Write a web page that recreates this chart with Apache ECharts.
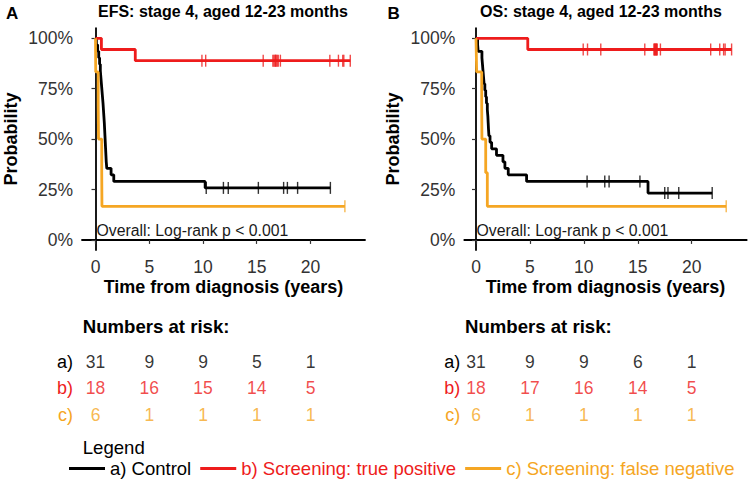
<!DOCTYPE html>
<html>
<head>
<meta charset="utf-8">
<script src="https://cdn.jsdelivr.net/npm/echarts@6/dist/echarts.min.js"></script>
<style>
html,body{margin:0;padding:0;background:#fff;}
#chart{width:751px;height:483px;}
</style>
</head>
<body>
<div id="chart"></div>
<script>
// ---------------- DATA ----------------
const groupNames = ['a) Control', 'b) Screening: true positive', 'c) Screening: false negative'];
const rowLabels = ['a)', 'b)', 'c)'];
const xTicks = [0, 5, 10, 15, 20];
const yTicks = [0, 0.25, 0.5, 0.75, 1];
const riskTimes = [0, 5, 10, 15, 20];

// Panel A (EFS): event times and censoring times, years
const efsControlEvents = [0.08, 0.2, 0.3, 0.38, 0.45, 0.5, 0.55, 0.6, 0.65, 0.7, 0.74, 0.78, 0.82, 0.85, 0.88, 0.91, 0.94, 0.97, 1.0, 1.05, 1.45, 1.7, 10.2];
const efsControlCensored = [10.3, 11.9, 12.35, 15.15, 17.5, 17.85, 18.8, 21.85];
const efsTruePosEvents = [0.55, 3.7];
const efsTruePosCensored = [9.9, 10.25, 15.6, 16.5, 16.6, 16.7, 16.75, 16.8, 16.9, 17.0, 17.2, 21.8, 22.6, 23.0, 23.1, 23.7];
const efsFalseNegEvents = [0.02, 0.25, 0.28, 0.58, 0.6];
const efsFalseNegCensored = [23.2];

// Panel B (OS)
const osControlEvents = [0.15, 0.2, 0.55, 0.6, 0.65, 0.7, 0.75, 0.82, 0.9, 0.97, 1.05, 1.1, 1.13, 1.16, 1.2, 1.3, 1.45, 1.9, 2.5, 2.68, 2.99, 4.69, 15.95];
const osControlCensored = [10.3, 11.94, 12.34, 15.2, 17.5, 17.8, 18.8, 21.9];
const osTruePosEvents = [4.8];
const osTruePosCensored = [9.94, 10.34, 11.57, 15.65, 16.5, 16.55, 16.6, 16.65, 16.7, 16.75, 16.8, 17.1, 21.76, 22.6, 22.96, 23.1, 23.7];
const osFalseNegEvents = [0.06, 0.53, 0.55, 0.9, 1.05];
const osFalseNegCensored = [23.2];

// Numbers at risk
const efsRiskControl = [31, 9, 9, 5, 1];
const efsRiskTruePos = [18, 16, 15, 14, 5];
const efsRiskFalseNeg = [6, 1, 1, 1, 1];
const osRiskControl = [31, 9, 9, 6, 1];
const osRiskTruePos = [18, 17, 16, 14, 5];
const osRiskFalseNeg = [6, 1, 1, 1, 1];

// ---------------- STYLE ----------------
const colors = ['#000000', '#ee1c1c', '#f5a623'];
const FONT = '"Liberation Sans", Arial, Helvetica, sans-serif';

// Kaplan-Meier step curve from event / censor times
function km(events, censored) {
  const n = events.length + censored.length;
  const times = Array.from(new Set(events.concat(censored))).sort((a, b) => a - b);
  let S = 1, atRisk = n;
  const curve = [[0, 1]];
  const marks = [];
  times.forEach(t => {
    const d = events.filter(e => e === t).length;
    const c = censored.filter(e => e === t).length;
    if (d > 0) { S = S * (atRisk - d) / atRisk; curve.push([t, S]); }
    if (c > 0) marks.push([t, S]);
    atRisk -= d + c;
  });
  const last = times[times.length - 1];
  curve.push([last, S]);
  return { curve, marks };
}

const panels = [
  { groups: [[efsControlEvents, efsControlCensored], [efsTruePosEvents, efsTruePosCensored], [efsFalseNegEvents, efsFalseNegCensored]],
    risk: [efsRiskControl, efsRiskTruePos, efsRiskFalseNeg] },
  { groups: [[osControlEvents, osControlCensored], [osTruePosEvents, osTruePosCensored], [osFalseNegEvents, osFalseNegCensored]],
    risk: [osRiskControl, osRiskTruePos, osRiskFalseNeg] }
];

const gridDefs = [
  { left: 82, top: 28.2, width: 283, height: 221.8 },
  { left: 464.3, top: 28.2, width: 282.4, height: 221.8 },
  { left: 82, top: 348.4, width: 283, height: 79.6 },
  { left: 464.3, top: 348.4, width: 282.4, height: 79.6 }
];
const xRanges = [[-1.256, 25.07], [-1.085, 25.1]];

const xAxes = [], yAxes = [], series = [];
[0, 1].forEach(p => {
  xAxes.push({
    type: 'value', gridIndex: p, min: xRanges[p][0], max: xRanges[p][1],
    name: 'Time from diagnosis (years)', nameLocation: 'middle', nameGap: 28,
    nameTextStyle: { fontFamily: FONT, fontSize: 18, fontWeight: 'bold', color: '#000' },
    axisLine: { show: true, lineStyle: { color: '#000', width: 1.8 } },
    axisTick: { show: true, length: 4, lineStyle: { color: '#333', width: 1.2 }, customValues: xTicks },
    axisLabel: { show: true, margin: 8, fontFamily: FONT, fontSize: 17.5, color: '#333', customValues: xTicks },
    splitLine: { show: false }
  });
  yAxes.push({
    type: 'value', gridIndex: p, min: -0.05, max: 1.05,
    name: 'Probability', nameLocation: 'middle', nameGap: 62,
    nameTextStyle: { fontFamily: FONT, fontSize: 18, fontWeight: 'bold', color: '#000' },
    axisLine: { show: true, lineStyle: { color: '#000', width: 1.8 } },
    axisTick: { show: true, length: 4, lineStyle: { color: '#333', width: 1.2 }, customValues: yTicks },
    axisLabel: { show: true, margin: 9, fontFamily: FONT, fontSize: 17.5, color: '#333', customValues: yTicks,
      formatter: v => Math.round(v * 100) + '%' },
    splitLine: { show: false }
  });
});
// risk table axes
[0, 1].forEach(p => {
  xAxes.push({
    type: 'value', gridIndex: 2 + p, min: xRanges[p][0], max: xRanges[p][1],
    show: false, splitLine: { show: false }
  });
  yAxes.push({
    type: 'category', gridIndex: 2 + p, data: rowLabels, inverse: true,
    axisLine: { show: false }, axisTick: { show: false }, splitLine: { show: false },
    axisLabel: {
      show: true, margin: p === 0 ? 9 : 4, fontFamily: FONT, fontSize: 18,
      formatter: (v, i) => '{r' + i + '|' + v + '}',
      rich: { r0: { color: colors[0], fontSize: 18, fontFamily: FONT },
              r1: { color: colors[1], fontSize: 18, fontFamily: FONT },
              r2: { color: colors[2], fontSize: 18, fontFamily: FONT } }
    }
  });
});

// draw order: false negative, control, true positive
const order = [2, 0, 1];
[0, 1].forEach(p => {
  order.forEach(g => {
    const res = km(panels[p].groups[g][0], panels[p].groups[g][1]);
    series.push({
      name: groupNames[g], type: 'line', step: 'end', xAxisIndex: p, yAxisIndex: p,
      data: res.curve, showSymbol: false, symbol: 'none', z: 2 + g,
      lineStyle: { color: colors[g], width: 2.8 }, itemStyle: { color: colors[g] },
      silent: true, animation: false
    });
    series.push({
      name: groupNames[g] + ' censored', type: 'scatter', xAxisIndex: p, yAxisIndex: p,
      data: res.marks, symbol: 'rect', symbolSize: [1.4, 12], z: 2 + g,
      itemStyle: { color: colors[g] }, silent: true, animation: false
    });
  });
  // numbers at risk
  panels[p].risk.forEach((row, g) => {
    series.push({
      name: 'risk' + p + g, type: 'scatter', xAxisIndex: 2 + p, yAxisIndex: 2 + p,
      data: row.map((v, i) => [riskTimes[i], rowLabels[g], v]),
      symbolSize: 1, itemStyle: { color: 'rgba(0,0,0,0)' }, silent: true, animation: false,
      label: { show: true, position: 'inside', formatter: d => String(d.value[2]),
        fontFamily: FONT, fontSize: 17.5, color: colors[g] }
    });
  });
});

const graphic = [
  { type: 'text', x: 6, y: 13, style: { text: 'A', font: 'bold 17px ' + FONT, fill: '#000', verticalAlign: 'middle' } },
  { type: 'text', x: 98, y: 11.5, style: { text: 'EFS: stage 4, aged 12-23 months', font: 'bold 16px ' + FONT, fill: '#000', verticalAlign: 'middle' } },
  { type: 'text', x: 387.5, y: 13, style: { text: 'B', font: 'bold 17px ' + FONT, fill: '#000', verticalAlign: 'middle' } },
  { type: 'text', x: 480, y: 11.5, style: { text: 'OS: stage 4, aged 12-23 months', font: 'bold 16px ' + FONT, fill: '#000', verticalAlign: 'middle' } },
  { type: 'text', x: 96.5, y: 230, style: { text: 'Overall: Log-rank p < 0.001', font: '15.8px ' + FONT, fill: '#1a1a1a', verticalAlign: 'middle' } },
  { type: 'text', x: 476.5, y: 230, style: { text: 'Overall: Log-rank p < 0.001', font: '15.8px ' + FONT, fill: '#1a1a1a', verticalAlign: 'middle' } },
  { type: 'text', x: 82.7, y: 326, style: { text: 'Numbers at risk:', font: 'bold 18.6px ' + FONT, fill: '#000', verticalAlign: 'middle' } },
  { type: 'text', x: 465, y: 326, style: { text: 'Numbers at risk:', font: 'bold 18.6px ' + FONT, fill: '#000', verticalAlign: 'middle' } },
  { type: 'text', x: 82.7, y: 447, style: { text: 'Legend', font: '18.6px ' + FONT, fill: '#000', verticalAlign: 'middle' } }
];

const option = {
  backgroundColor: '#ffffff',
  animation: false,
  textStyle: { fontFamily: FONT },
  grid: gridDefs.map(g => Object.assign({ containLabel: false }, g)),
  xAxis: xAxes,
  yAxis: yAxes,
  legend: {
    data: groupNames.map((n, i) => ({ name: n, icon: 'rect', textStyle: { color: colors[i] } })),
    left: 69, top: 459, padding: 0, itemWidth: 36, itemHeight: 3, itemGap: 9,
    textStyle: { fontFamily: FONT, fontSize: 18.5 }, selectedMode: false
  },
  graphic: graphic,
  series: series
};

const chart = echarts.init(document.getElementById('chart'), null, { renderer: 'svg' });
chart.setOption(option);
</script>
</body>
</html>
